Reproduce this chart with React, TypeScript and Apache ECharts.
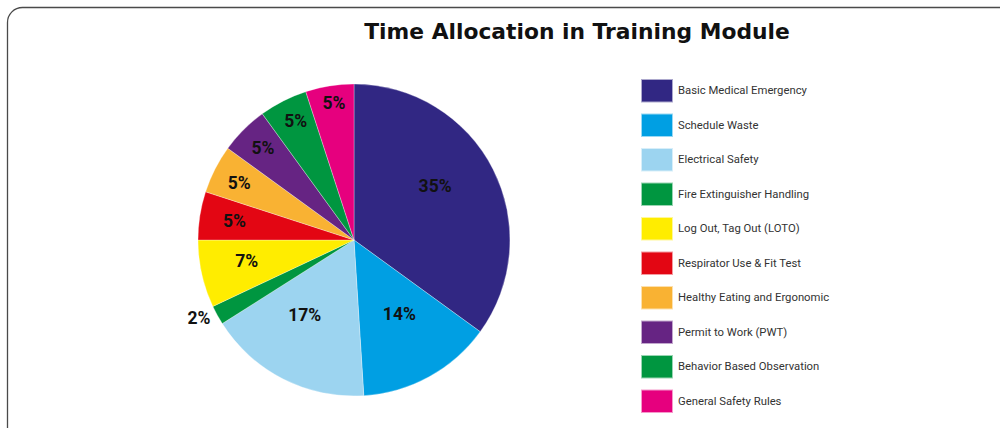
import React, { useEffect, useRef } from "react";
import * as echarts from "echarts";

const titleText = "Time Allocation in Training Module";
const categories = [
  "Basic Medical Emergency",
  "Schedule Waste",
  "Electrical Safety",
  "Fire Extinguisher Handling",
  "Log Out, Tag Out (LOTO)",
  "Respirator Use & Fit Test",
  "Healthy Eating and Ergonomic",
  "Permit to Work (PWT)",
  "Behavior Based Observation",
  "General Safety Rules",
];
const values = [35, 14, 17, 2, 7, 5, 5, 5, 5, 5];
const colors = [
  "#312783",
  "#009FE3",
  "#9CD4F0",
  "#009640",
  "#FFED00",
  "#E30613",
  "#F9B233",
  "#662483",
  "#009640",
  "#E6007E",
];
// label distance from pie centre (px), per slice
const labelRadius = [97, 87, 90, 174, 111, 120, 128, 130, 132, 138];
// small nudge of each label (px) [dx, dy]
const labelNudge = [
  [-8, -9],
  [2, -5],
  [-7, -8],
  [0, -7],
  [4, -4],
  [2, 0],
  [2, 2],
  [3, 2],
  [3, 1],
  [2, 2],
];

const CENTER = [354, 240];
const RADIUS = 156;

function nudgePadding(dx: number) {
  return [0, dx < 0 ? -2 * dx : 0, 0, dx > 0 ? 2 * dx : 0];
}

function nudgeFormatter(value: number, dy: number) {
  const v = `{v|${value}%}`;
  if (dy < 0) return `${v}\n{g| }`;
  if (dy > 0) return `{g| }\n${v}`;
  return v;
}

export default function App() {
  const ref = useRef<HTMLDivElement>(null);
  useEffect(() => {
    document.body.style.margin = "0";
    const chart = echarts.init(ref.current!, null, { renderer: "svg" });
    const labelSeries = categories.map((_, i) => ({
      type: "pie",
      silent: true,
      center: CENTER,
      radius: [labelRadius[i] - 1, labelRadius[i] + 1],
      startAngle: 90,
      clockwise: true,
      avoidLabelOverlap: false,
      z: 5,
      itemStyle: { color: "rgba(0,0,0,0)", borderWidth: 0 },
      emphasis: { disabled: true },
      labelLine: { show: false },
      data: categories.map((name, j) => ({
        name,
        value: values[j],
        label: {
          show: j === i,
          position: "inside",
          formatter: nudgeFormatter(values[j], labelNudge[j][1]),
          padding: nudgePadding(labelNudge[j][0]),
          rich: {
            v: {
              fontFamily: "Roboto",
              fontWeight: "bold",
              fontSize: 17.5,
              lineHeight: 20,
              color: "#111",
            },
            g: {
              fontSize: 1,
              lineHeight: Math.abs(2 * labelNudge[j][1]),
              height: Math.abs(2 * labelNudge[j][1]),
            },
          },
        },
      })),
    }));
    chart.setOption({
      animation: false,
      title: {
        text: titleText,
        left: 572,
        top: 15,
        textAlign: "center",
        textStyle: {
          fontFamily: "DejaVu Sans",
          fontWeight: "bold",
          fontSize: 21.8,
          color: "#111",
        },
      },
      legend: {
        orient: "vertical",
        left: 640,
        top: 78,
        height: 360,
        padding: 0,
        itemWidth: 32,
        itemHeight: 23.5,
        itemGap: 9,
        icon: "rect",
        selectedMode: false,
        textStyle: {
          fontFamily: "Roboto",
          fontSize: 11.3,
          color: "#333",
        },
        data: categories.map((name, i) => ({
          name,
          itemStyle: { color: colors[i] },
        })),
      },
      graphic: [
        {
          type: "rect",
          shape: { x: 7.5, y: 7.5, width: 1030, height: 460, r: 15 },
          style: { fill: "none", stroke: "#4a4a4a", lineWidth: 1.3 },
          silent: true,
        },
      ],
      series: [
        {
          type: "pie",
          center: CENTER,
          radius: [0, RADIUS],
          startAngle: 90,
          clockwise: true,
          label: { show: false },
          labelLine: { show: false },
          itemStyle: { borderColor: "rgba(255,255,255,0.6)", borderWidth: 0.5 },
          emphasis: { disabled: true },
          data: categories.map((name, i) => ({
            name,
            value: values[i],
            itemStyle: { color: colors[i] },
          })),
        },
        ...labelSeries,
      ],
    });
    return () => chart.dispose();
  }, []);
  return <div ref={ref} style={{ width: 1000, height: 428 }} />;
}
